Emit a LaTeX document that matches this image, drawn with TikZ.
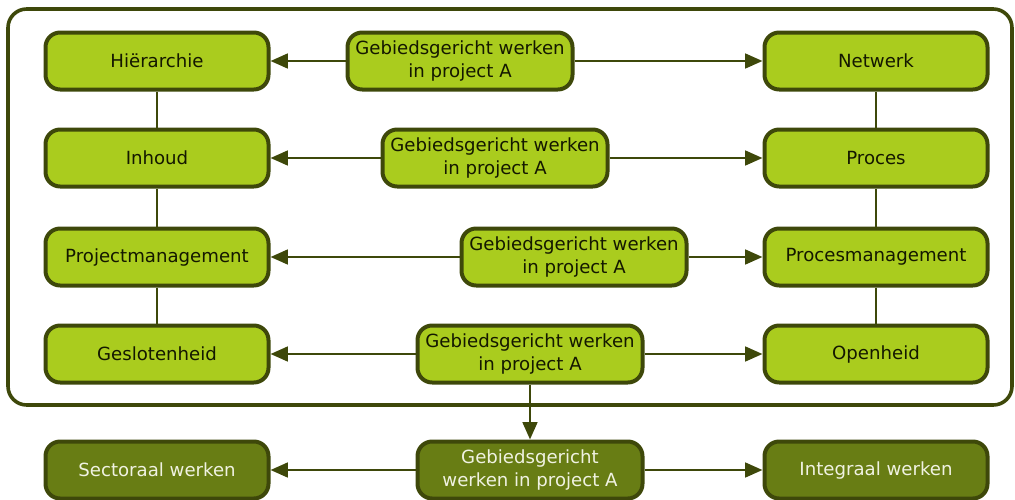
\documentclass[tikz,border=0pt]{standalone}
\usepackage{fontspec}
\setmainfont{DejaVu Sans}
\usetikzlibrary{arrows.meta}
\definecolor{leaf}{RGB}{170,204,30}
\definecolor{moss}{RGB}{104,125,20}
\definecolor{bark}{RGB}{62,72,10}
\definecolor{ink}{RGB}{20,24,0}
\definecolor{paper}{RGB}{240,242,226}
\begin{document}
\begin{tikzpicture}[x=0.75pt,y=-0.75pt,
  box/.style={draw=bark, line width=3pt, rounded corners=11pt, fill=leaf,
    text=ink, minimum width=223*0.75pt, minimum height=57*0.75pt,
    align=center, inner sep=2pt, font=\fontsize{13.6pt}{17.2pt}\selectfont},
  midbox/.style={box, minimum width=225*0.75pt},
  darkbox/.style={box, fill=moss, text=paper},
  link/.style={draw=bark, line width=1.5pt},
  flow/.style={draw=bark, line width=1.9pt, -{Triangle[length=13pt,width=11pt]}},
  frame/.style={draw=bark, line width=2.7pt, rounded corners=14pt}]
\useasboundingbox (0,0) rectangle (1015,500);

% outer frame around the four rows
\draw[frame] (8,9) rectangle (1012,405);

% left column
\node[box] (hier) at (157,61) {Hiërarchie};
\node[box] (inh)  at (157,158) {Inhoud};
\node[box] (pm)   at (157,257) {Projectmanagement};
\node[box] (gesl) at (157,354) {Geslotenheid};

% right column
\node[box] (netw) at (876,61) {Netwerk};
\node[box] (proc) at (876,158) {Proces};
\node[box] (prm)  at (876,257) {Procesmanagement};
\node[box] (open) at (876,354) {Openheid};

% middle boxes
\node[midbox] (m1) at (460,61)  {Gebiedsgericht werken\\in project A};
\node[midbox] (m2) at (495,158) {Gebiedsgericht werken\\in project A};
\node[midbox] (m3) at (574,257) {Gebiedsgericht werken\\in project A};
\node[midbox] (m4) at (530,354) {Gebiedsgericht werken\\in project A};

% bottom row
\node[darkbox] (sect) at (157,470) {Sectoraal werken};
\node[darkbox, minimum width=225*0.75pt] (mb) at (530,470) {Gebiedsgericht\\werken in project A};
\node[darkbox] (intg) at (876,470) {Integraal werken};

% column links
\draw[link] (hier) -- (inh);
\draw[link] (inh) -- (pm);
\draw[link] (pm) -- (gesl);
\draw[link] (netw) -- (proc);
\draw[link] (proc) -- (prm);
\draw[link] (prm) -- (open);

% arrows out of the middle boxes
\foreach \m/\l/\r in {m1/hier/netw, m2/inh/proc, m3/pm/prm, m4/gesl/open, mb/sect/intg}{
  \draw[flow] (\m) -- (\l);
  \draw[flow] (\m) -- (\r);
}
\draw[flow] (m4) -- (mb);
\end{tikzpicture}
\end{document}
